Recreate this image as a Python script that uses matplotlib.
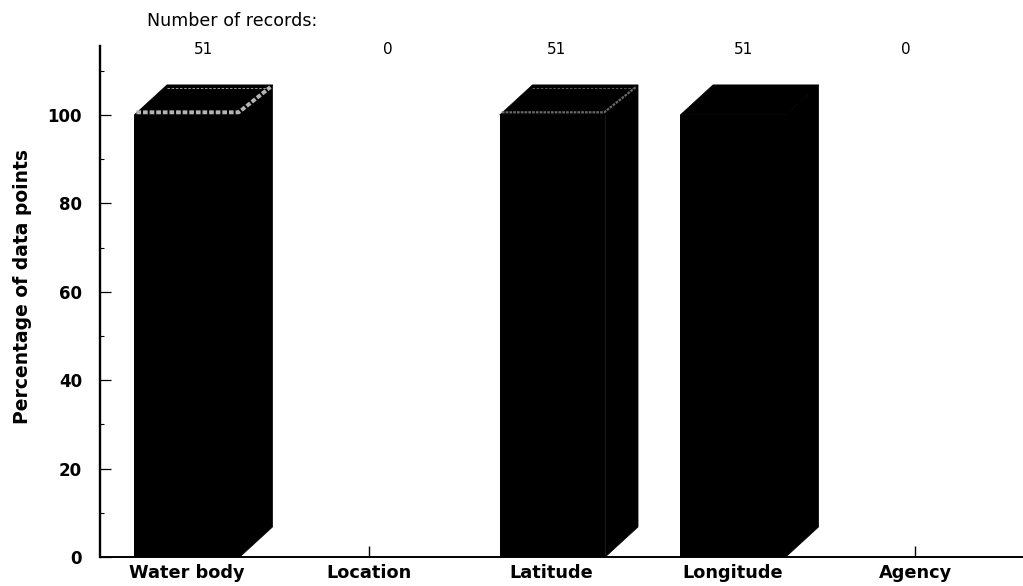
import matplotlib
matplotlib.use('Agg')
import matplotlib.pyplot as plt
from matplotlib.patches import Polygon

categories = ['Water body', 'Location', 'Latitude', 'Longitude', 'Agency']
percent = [100, 0, 100, 100, 0]
records = [51, 0, 51, 51, 0]
y_ticks = [0, 20, 40, 60, 80, 100]
y_minor = [10, 30, 50, 70, 90, 110]

# the record counts are off-centre in the scan
record_offset = [0.093, 0.105, 0.03, 0.055, -0.05]
# light rim left on the top face of some bars
top_edge = ['#b4b4b4', None, '#6a6a6a', None, None]
rim_width = [2.8, 0, 1.6, 0, 0]
bar_nudge = [0, 0, 0.008, 0, 0]

plt.rcParams['font.family'] = ['DejaVu Sans']

W, H = 1023, 586
fig = plt.figure(figsize=(W / 100, H / 100), dpi=100)
ax = fig.add_axes([100 / W, 1 - 557 / H, 923 / W, 511 / H])

ax.set_xlim(-0.478, 4.593)
ax.set_ylim(0, 115.6)

bar_width = 0.58
depth_x = 0.18
depth_y = 6.8

for i, val in enumerate(percent):
    if val == 0:
        continue
    left = i + bar_nudge[i] - bar_width / 2
    right = left + bar_width
    ax.bar(left + bar_width / 2, val, bar_width, color='black', zorder=3)
    side = [(right, 0), (right + depth_x, depth_y), (right + depth_x, val + depth_y), (right, val)]
    top = [(left, val), (left + depth_x, val + depth_y), (right + depth_x, val + depth_y), (right, val)]
    ax.add_patch(Polygon(side, closed=True, fc='black', ec='black', lw=0.5, zorder=3))
    ax.add_patch(Polygon(top, closed=True, fc='black', ec='black', lw=0.5, zorder=3))
    if top_edge[i]:
        ax.plot([left + 0.012, right - 0.006, right + depth_x - 0.012],
                [val + 0.6, val + 0.6, val + depth_y - 0.5],
                color=top_edge[i], lw=rim_width[i], ls=(0, (1.2, 0.5)), zorder=4)
        ax.plot([left + depth_x, right + depth_x - 0.012], [val + depth_y - 0.6, val + depth_y - 0.6],
                color=top_edge[i], lw=0.6, ls=(0, (3, 2)), zorder=4)

for s in ['top', 'right']:
    ax.spines[s].set_visible(False)
ax.spines['left'].set_linewidth(1.7)
ax.spines['bottom'].set_linewidth(1.4)

ax.set_xticks(range(len(categories)))
ax.set_xticklabels(categories, fontsize=12.8, fontweight='bold')
ax.tick_params(axis='x', direction='in', length=8, width=1, pad=5)
ax.get_xticklines()[0].set_visible(False)

ax.set_yticks(y_ticks)
ax.set_yticklabels(y_ticks, fontsize=12, fontweight='bold')
ax.set_yticks(y_minor, minor=True)
ax.tick_params(axis='y', which='major', direction='in', length=8, width=0.9, pad=13)
ax.tick_params(axis='y', which='minor', direction='in', length=3, width=0.8)

ax.set_ylabel('Percentage of data points', fontsize=13.5, fontweight='bold')
ax.yaxis.set_label_coords(-68 / 923, (557 - 286) / 511)

for i, n in enumerate(records):
    ax.text(i + record_offset[i], (557 - 50) / 511, str(n), transform=ax.get_xaxis_transform(),
            ha='center', va='center', fontsize=11)
fig.text(232.5 / W, 1 - 21 / H, 'Number of records:', ha='center', va='center', fontsize=12.6)

plt.savefig('out.png', dpi=100)
